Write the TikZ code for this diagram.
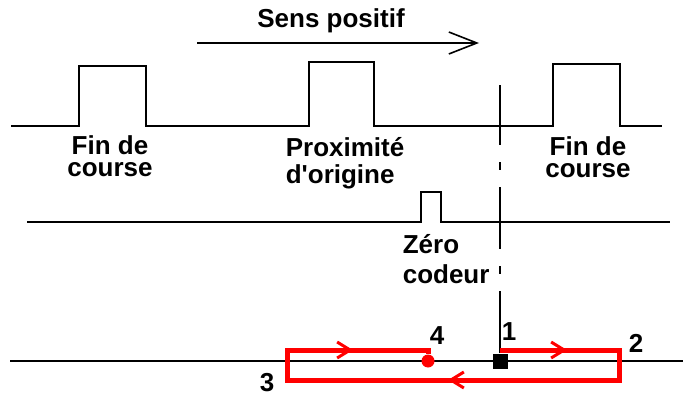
\documentclass[tikz,border=0pt]{standalone}
\usepackage{fontspec}
\setmainfont{Liberation Sans}
\usetikzlibrary{arrows.meta,decorations.markings}

\begin{document}
\begin{tikzpicture}[x=1pt,y=-1pt,line width=1.6pt,
  lbl/.style={font=\fontsize{26}{#1}\selectfont\bfseries,inner sep=0pt},
  lbl/.default=22,
  loopred/.style={red,line width=5pt,line join=miter},
  midarrow/.style={postaction={decorate,decoration={markings,
    mark=at position #1 with {\arrow{Straight Barb[length=13pt,width=16pt,line width=3pt]}}}}}]
 \useasboundingbox (0,0) rectangle (683,396);
 \node[lbl,anchor=base] (sens) at (331,28) {Sens positif};
 \coordinate (sensA) at (197,43);
 \coordinate (sensB) at (479,43);
 \draw[-{Straight Barb[length=28pt,width=22pt]}] (sensA) -- (sensB);
 \draw (11,126) -- (79,126) -- (79,66) -- (146,66) -- (146,126) -- (309,126) -- (309,62)
   -- (374,62) -- (374,126) -- (553,126) -- (553,64) -- (620,64) -- (620,126) -- (662,126);
 \draw (27,222) -- (421,222) -- (421,192) -- (441,192) -- (441,222) -- (670,222);
 \draw (10,361) -- (683,361);
 \node[lbl,anchor=base,align=center] (fin1) at (110,176) {Fin de\\course};
 \node[lbl=27,anchor=base west,align=left] (prox) at (285,183) {Proximité\\d\textquotesingle origine};
 \node[lbl,anchor=base,align=center] (fin2) at (588,177) {Fin de\\course};
 \node[lbl=30,anchor=base west,align=left] (zero) at (402,283) {Zéro\\codeur};
 \node[fill=black,minimum size=15pt,inner sep=0pt] (sq1) at (500,361) {};
 \node[circle,fill=red,minimum size=13pt,inner sep=0pt] (pt4) at (428,361) {};
 \coordinate (axtop) at (500,85);
 \draw[dash pattern=on 62pt off 17pt on 8pt off 17pt] (sq1.north) -- (axtop);
 \coordinate (p1) at (500,350);
 \coordinate (c2) at (619,350);
 \coordinate (c2b) at (619,380);
 \coordinate (c3) at (287,380);
 \coordinate (c3t) at (287,350);
 \coordinate (p4) at (428,350);
 \draw[loopred,midarrow=67pt,midarrow=320pt,midarrow=577pt]
   (p1) -- (c2) -- (c2b) -- (c3) -- (c3t) -- (p4) -- (pt4);
 \node[lbl,anchor=base] (l1) at (509,340) {1};
 \node[lbl,anchor=base] (l2) at (636,352) {2};
 \node[lbl,anchor=base] (l3) at (267,391) {3};
 \node[lbl,anchor=base] (l4) at (437,344) {4};
\end{tikzpicture}
\end{document}
